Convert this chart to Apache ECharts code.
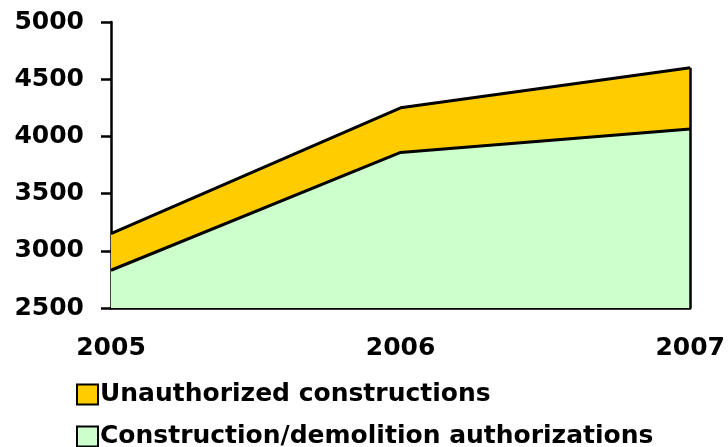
<!DOCTYPE html>
<html>
<head>
<meta charset="utf-8">
<title>Constructions</title>
<script src="https://cdn.jsdelivr.net/npm/echarts@6/dist/echarts.min.js"></script>
<style>
  html, body { margin: 0; padding: 0; background: #fff; }
  #chart { width: 728px; height: 447px; }
</style>
</head>
<body>
<div id="chart"></div>
<script>
var years = ['2005', '2006', '2007'];
var authorized = [2830, 3860, 4065];
var unauthorized = [320, 390, 535];
var yTicks = { min: 2500, max: 5000, step: 500 };

var chart = echarts.init(document.getElementById('chart'));
var font = 'DejaVu Sans';
var lastIdx = years.length - 1;
var lastTotal = authorized[lastIdx] + unauthorized[lastIdx];

function legendAt(top, name) {
    return {
        orient: 'vertical',
        left: 71,
        top: top,
        itemWidth: 21,
        itemHeight: 20,
        icon: 'rect',
        data: [name],
        textStyle: { fontFamily: font, fontWeight: 'bold', fontSize: 25, color: '#000', padding: [0, 0, 0, -3] }
    };
}

var option = {
    animation: false,
    grid: { left: 111, right: 34, top: 22, bottom: 139 },
    legend: [
        legendAt(377, 'Unauthorized constructions'),
        legendAt(419, 'Construction/demolition authorizations')
    ],
    xAxis: {
        type: 'category',
        data: years,
        boundaryGap: false,
        axisLine: { lineStyle: { color: '#000', width: 2.5 } },
        axisTick: { show: false },
        axisLabel: { margin: 28, fontFamily: font, fontWeight: 'bold', fontSize: 25, color: '#000' }
    },
    yAxis: {
        type: 'value',
        min: yTicks.min,
        max: yTicks.max,
        interval: yTicks.step,
        splitLine: { show: false },
        axisLine: { show: true, lineStyle: { color: '#000', width: 2.5 } },
        axisTick: { show: true, inside: false, length: 10, lineStyle: { color: '#000', width: 2.5 } },
        axisLabel: {
            margin: 27, fontFamily: font, fontWeight: 'bold', fontSize: 25, color: '#000',
            formatter: function (v) { return String(v); }
        }
    },
    series: [{
        name: 'Construction/demolition authorizations',
        type: 'line',
        stack: 'total',
        data: authorized,
        symbol: 'none',
        lineStyle: { color: '#000', width: 3 },
        itemStyle: { color: '#CCFFCC', borderColor: '#000', borderWidth: 1.5 },
        areaStyle: { color: '#CCFFCC', opacity: 1 }
    }, {
        name: 'Unauthorized constructions',
        type: 'line',
        stack: 'total',
        data: unauthorized,
        symbol: 'none',
        lineStyle: { color: '#000', width: 3 },
        itemStyle: { color: '#FFCC00', borderColor: '#000', borderWidth: 1.5 },
        areaStyle: { color: '#FFCC00', opacity: 1 },
        markLine: {
            silent: true,
            symbol: 'none',
            label: { show: false },
            lineStyle: { color: '#000', width: 2.5, type: 'solid' },
            data: [[{ coord: [years[lastIdx], yTicks.min] }, { coord: [years[lastIdx], lastTotal] }]]
        }
    }]
};
chart.setOption(option);
</script>
</body>
</html>
